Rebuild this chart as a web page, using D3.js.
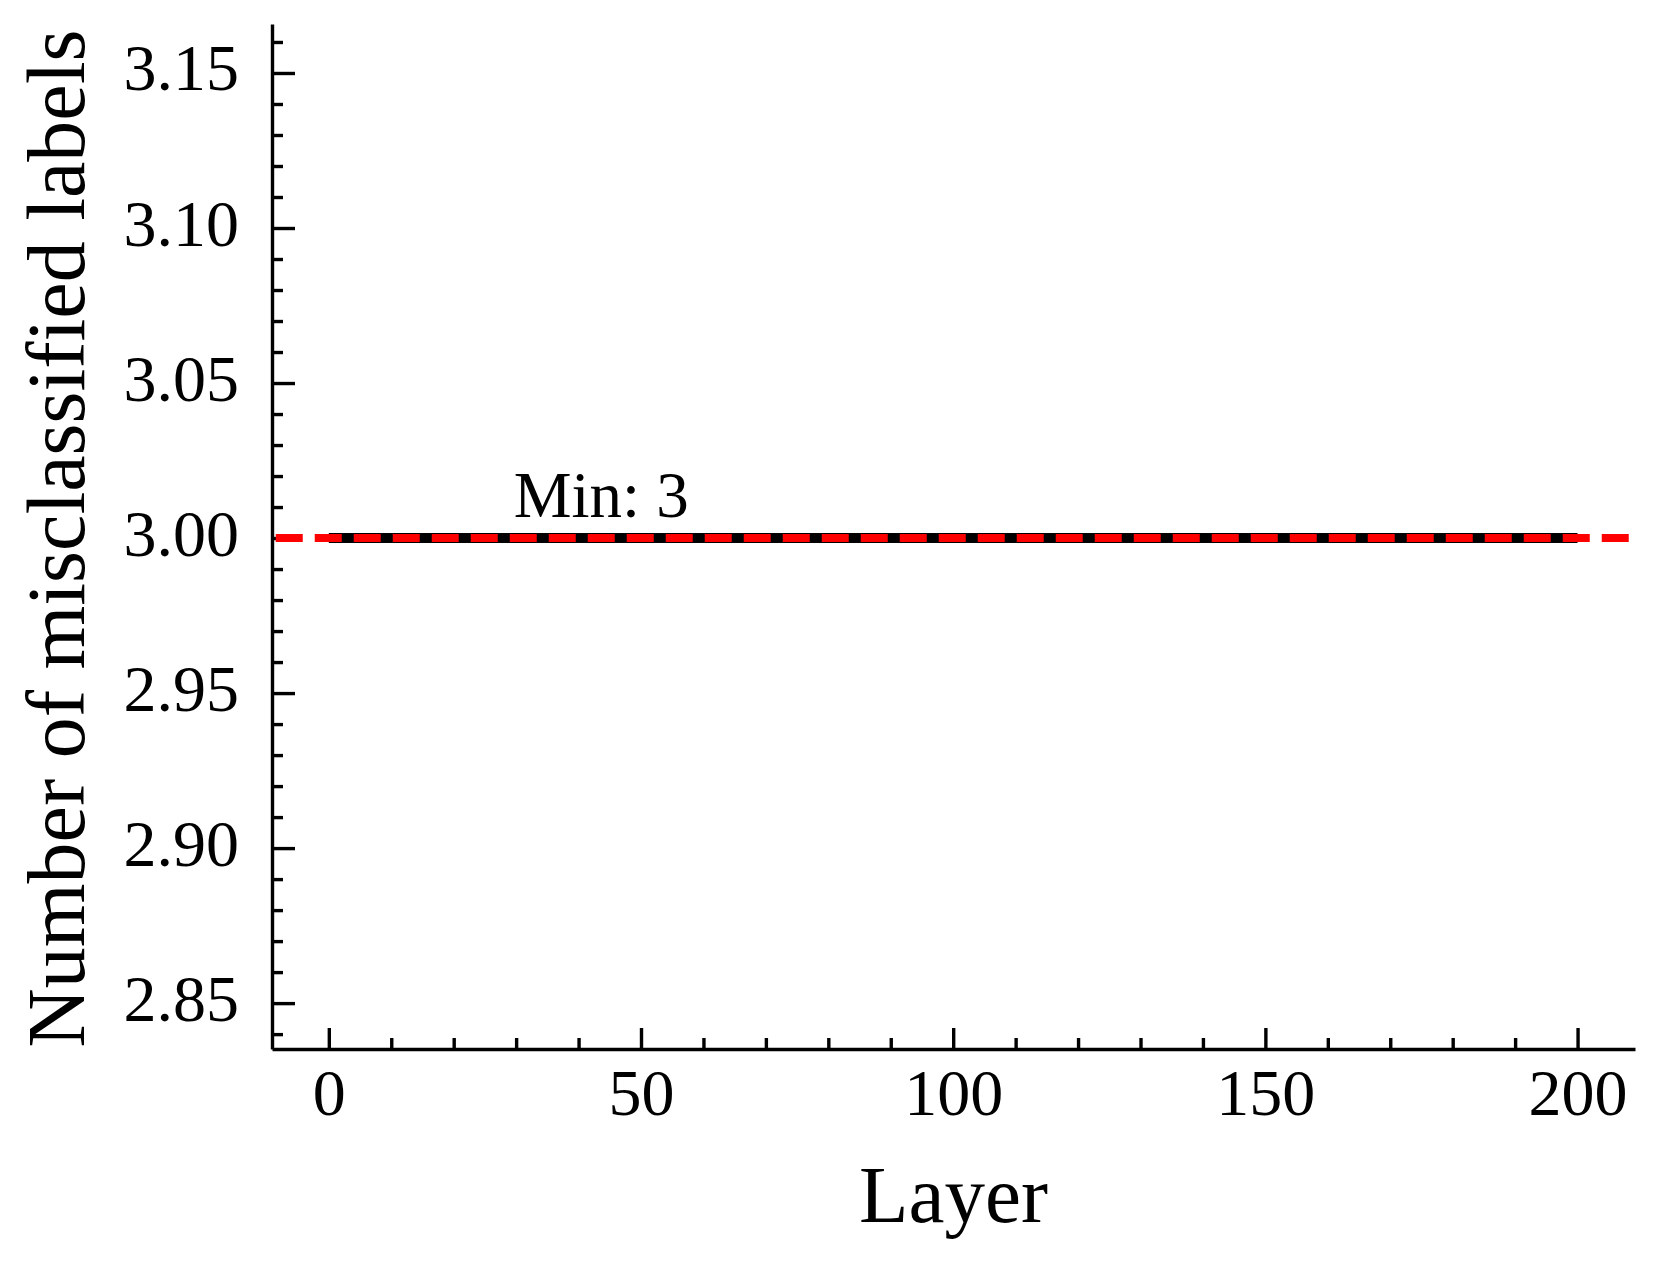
<!DOCTYPE html>
<html>
<head>
<meta charset="utf-8">
<script src="https://cdn.jsdelivr.net/npm/d3@7"></script>
<style>
  body { margin: 0; background: #fff; }
  text { font-family: "Liberation Serif", "Times New Roman", serif; fill: #000; }
</style>
</head>
<body>
<div id="chart"></div>
<script>
// data
var layers = [0, 200];          // first and last layer of the curve
var misclassified = [3, 3];     // flat at 3 the whole way
var minValue = 3;
var xMajorTicks = [0, 50, 100, 150, 200];
var yMajorTicks = [2.85, 2.90, 2.95, 3.00, 3.05, 3.10, 3.15];

var width = 1660, height = 1266;
var plotLeft = 272, plotRight = 1635, plotTop = 24, plotBottom = 1049;

var svg = d3.select("#chart").append("svg")
    .attr("width", width)
    .attr("height", height);

var x = d3.scaleLinear().domain([-9.1, 209.2]).range([plotLeft, plotRight]);
var y = d3.scaleLinear().domain([2.8352, 3.1658]).range([plotBottom, plotTop]);

// minor ticks every 10 / every 0.01
var xMinor = d3.range(0, 201, 10).filter(function(d) { return d % 50 != 0; });
var yMinor = d3.range(284, 317).map(function(d) { return d / 100; })
    .filter(function(d) { return Math.round(d * 100) % 5 != 0; });

var xAxis = svg.append("g")
    .attr("transform", "translate(0," + plotBottom + ")")
    .call(d3.axisBottom(x).tickValues(xMajorTicks).tickSizeInner(-21).tickSizeOuter(0)
        .tickFormat(d3.format("d")));
svg.append("g")
    .attr("transform", "translate(0," + plotBottom + ")")
    .call(d3.axisBottom(x).tickValues(xMinor).tickSizeInner(-11).tickSizeOuter(0).tickFormat(""))
    .select(".domain").remove();

var yAxis = svg.append("g")
    .attr("transform", "translate(" + plotLeft + ",0)")
    .call(d3.axisLeft(y).tickValues(yMajorTicks).tickSizeInner(-23).tickSizeOuter(0)
        .tickFormat(d3.format(".2f")));
svg.append("g")
    .attr("transform", "translate(" + plotLeft + ",0)")
    .call(d3.axisLeft(y).tickValues(yMinor).tickSizeInner(-11).tickSizeOuter(0).tickFormat(""))
    .select(".domain").remove();

svg.selectAll(".domain, .tick line")
    .attr("stroke", "#000")
    .attr("stroke-width", 3.4);

xAxis.selectAll(".tick text")
    .attr("y", 66)
    .attr("dy", 0)
    .attr("font-size", 66)
    .attr("font-family", "Liberation Serif");
yAxis.selectAll(".tick text")
    .attr("x", -33)
    .attr("dy", 17)
    .attr("font-size", 66)
    .attr("font-family", "Liberation Serif");

// the curve
var pts = layers.map(function(d, i) { return [d, misclassified[i]]; });
var line = d3.line()
    .x(function(d) { return x(d[0]); })
    .y(function(d) { return y(d[1]); });

svg.append("path")
    .datum(pts)
    .attr("d", line)
    .attr("fill", "none")
    .attr("stroke", "#000")
    .attr("stroke-width", 10);

// minimum line, across the whole axis
svg.append("line")
    .attr("x1", x(-8.5))
    .attr("x2", x.range()[1])
    .attr("y1", y(minValue))
    .attr("y2", y(minValue))
    .attr("stroke", "#ff0000")
    .attr("stroke-width", 8)
    .attr("stroke-dasharray", "27,12");

svg.append("text")
    .attr("x", x(29.6))
    .attr("y", y(minValue) - 21)
    .attr("font-size", 65)
    .text("Min: " + minValue);

// axis titles
svg.append("text")
    .attr("x", (plotLeft + plotRight) / 2)
    .attr("y", 1222)
    .attr("text-anchor", "middle")
    .attr("font-size", 81)
    .text("Layer");

svg.append("text")
    .attr("transform", "translate(84," + ((plotTop + plotBottom) / 2 + 2) + ") rotate(-90)")
    .attr("text-anchor", "middle")
    .attr("font-size", 82)
    .text("Number of misclassified labels");
</script>
</body>
</html>
